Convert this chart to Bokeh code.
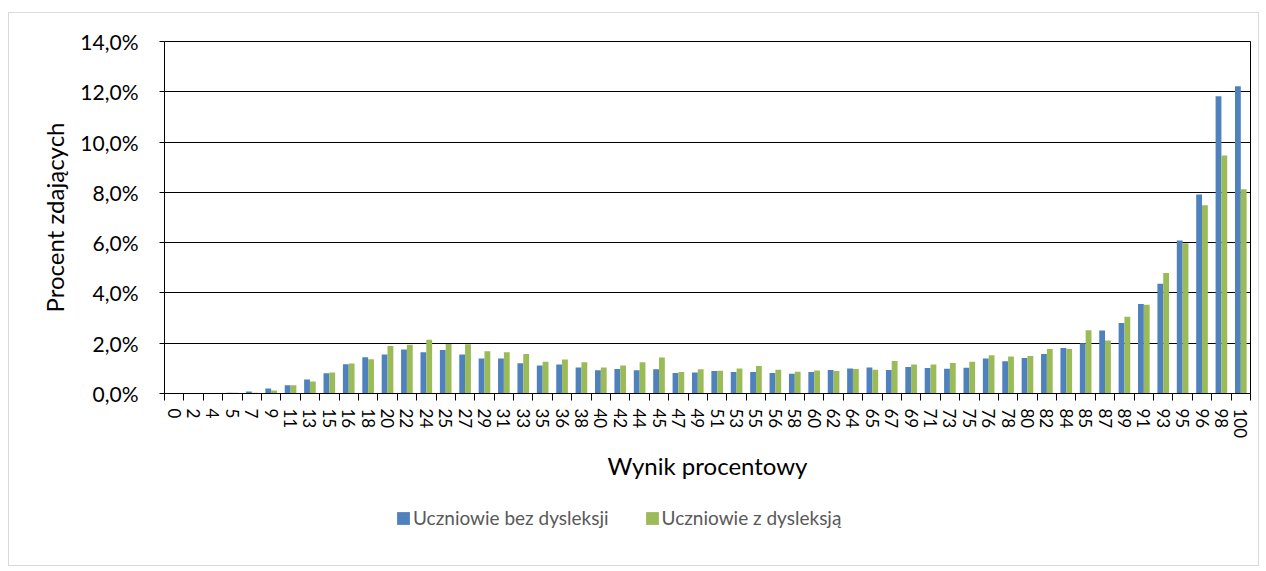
from bokeh.plotting import figure
from bokeh.layouts import column
from bokeh.models import (Range1d, FixedTicker, CustomJSTickFormatter, Legend, LegendItem,
                          ColumnDataSource)
from bokeh.transform import dodge
from bokeh.embed import file_html
from bokeh.resources import INLINE

# ---- data ----
categories = ["0", "2", "4", "5", "7", "9", "11", "13", "15", "16", "18", "20", "22", "24",
              "25", "27", "29", "31", "33", "35", "36", "38", "40", "42", "44", "45", "47",
              "49", "51", "53", "55", "56", "58", "60", "62", "64", "65", "67", "69", "71",
              "73", "75", "76", "78", "80", "82", "84", "85", "87", "89", "91", "93", "95",
              "96", "98", "100"]

bez_dysleksji = [0.00, 0.00, 0.00, 0.03, 0.08, 0.20, 0.33, 0.56, 0.81, 1.16, 1.44, 1.55, 1.75,
                 1.64, 1.73, 1.55, 1.39, 1.39, 1.20, 1.11, 1.15, 1.03, 0.92, 0.97, 0.92, 0.96,
                 0.82, 0.84, 0.89, 0.86, 0.86, 0.82, 0.79, 0.86, 0.93, 0.99, 1.03, 0.93, 1.05,
                 1.01, 0.98, 1.02, 1.39, 1.28, 1.41, 1.57, 1.81, 2.00, 2.51, 2.80, 3.56, 4.37,
                 6.09, 7.91, 11.82, 12.22]

z_dysleksja = [0.00, 0.00, 0.00, 0.03, 0.03, 0.12, 0.33, 0.48, 0.84, 1.19, 1.36, 1.89, 1.94,
               2.14, 1.97, 1.96, 1.68, 1.64, 1.57, 1.26, 1.35, 1.24, 1.03, 1.11, 1.24, 1.43,
               0.86, 0.96, 0.90, 0.99, 1.09, 0.94, 0.87, 0.91, 0.89, 0.97, 0.94, 1.29, 1.15,
               1.15, 1.21, 1.26, 1.52, 1.47, 1.49, 1.77, 1.77, 2.52, 2.11, 3.05, 3.53, 4.79,
               5.98, 7.49, 9.47, 8.12]

y_ticks = [0, 2, 4, 6, 8, 10, 12, 14]
series_names = ["Uczniowie bez dysleksji", "Uczniowie z dysleksją"]
series_colors = ["#4F81BD", "#9BBB59"]

FONT = "Lato"

idx = list(range(len(categories)))
src = ColumnDataSource(dict(x=idx, bez=bez_dysleksji, z=z_dysleksja))

p = figure(width=1249, height=477, output_backend="svg", toolbar_location=None,
           x_range=Range1d(-0.5, len(categories) - 0.5), y_range=Range1d(0, 14),
           min_border_left=155, min_border_right=8, min_border_top=28, min_border_bottom=97)
p.outline_line_color = "#000000"
p.outline_line_width = 1

r1 = p.vbar(x=dodge("x", -0.15), top="bez", width=0.3, source=src,
            fill_color=series_colors[0], line_color=None)
r2 = p.vbar(x=dodge("x", 0.15), top="z", width=0.3, source=src,
            fill_color=series_colors[1], line_color=None)

# grid
p.xgrid.visible = False
p.ygrid.grid_line_color = "#000000"
p.ygrid.grid_line_width = 1
p.ygrid.ticker = FixedTicker(ticks=y_ticks)

# y axis
p.yaxis.ticker = FixedTicker(ticks=y_ticks)
p.yaxis.formatter = CustomJSTickFormatter(code="return tick.toFixed(1).replace('.', ',') + '%';")
p.yaxis.axis_label = "Procent zdających"
p.yaxis.axis_label_text_font = FONT
p.yaxis.axis_label_text_font_style = "normal"
p.yaxis.axis_label_text_font_size = "24px"
p.yaxis.axis_label_text_color = "#000000"
p.yaxis.axis_label_standoff = 8
p.yaxis.major_label_text_font = FONT
p.yaxis.major_label_text_font_size = "21px"
p.yaxis.major_label_text_color = "#000000"
p.yaxis.major_tick_out = 5
p.yaxis.major_tick_in = 0
p.yaxis.minor_tick_out = 0
p.yaxis.minor_tick_in = 0
p.yaxis.major_label_standoff = 21
p.yaxis.axis_line_color = "#000000"
p.yaxis.major_tick_line_color = "#000000"

# x axis
boundaries = [i - 0.5 for i in range(len(categories) + 1)]
p.xaxis.ticker = FixedTicker(ticks=idx, minor_ticks=boundaries)
p.xaxis.major_label_overrides = {i: c for i, c in enumerate(categories)}
p.xaxis.major_label_orientation = "vertical"
p.xaxis.major_label_text_font = FONT
p.xaxis.major_label_text_font_size = "17px"
p.xaxis.major_label_text_color = "#000000"
p.xaxis.major_tick_out = 0
p.xaxis.major_tick_in = 0
p.xaxis.minor_tick_out = 7
p.xaxis.minor_tick_in = 0
p.xaxis.minor_tick_line_color = "#000000"
p.xaxis.major_label_standoff = 8
p.xaxis.axis_line_color = "#000000"
p.xaxis.axis_label = "Wynik procentowy"
p.xaxis.axis_label_text_font = FONT
p.xaxis.axis_label_text_font_style = "normal"
p.xaxis.axis_label_text_font_size = "24px"
p.xaxis.axis_label_text_color = "#000000"
p.xaxis.axis_label_standoff = 10

# legend strip below the chart (frames are aligned with the main chart by the column)
lg = figure(width=1249, height=75, output_backend="svg", toolbar_location=None,
            x_range=Range1d(0, 1), y_range=Range1d(0, 1),
            min_border_left=0, min_border_right=0, min_border_top=0, min_border_bottom=0)
lg.axis.visible = False
lg.grid.visible = False
lg.outline_line_color = None
# zero-height proxy bars: only their legend swatches are visible
proxy = ColumnDataSource(dict(x=[0.5], top=[0.0]))
lr1 = lg.vbar(x="x", top="top", width=0.01, source=proxy,
              fill_color=series_colors[0], line_color=None)
lr2 = lg.vbar(x="x", top="top", width=0.01, source=proxy,
              fill_color=series_colors[1], line_color=None)

legend = Legend(items=[LegendItem(label=series_names[0], renderers=[lr1]),
                       LegendItem(label=series_names[1], renderers=[lr2])],
                orientation="horizontal", location=(231, 36))
legend.label_text_font = FONT
legend.label_text_font_size = "19px"
legend.label_text_color = "#595959"
legend.glyph_width = 16
legend.glyph_height = 16
legend.label_height = 16
legend.label_standoff = 2
legend.spacing = 35
legend.border_line_color = None
legend.background_fill_alpha = 0
legend.margin = 0
legend.padding = 0
lg.add_layout(legend, "center")

layout = column(p, lg, spacing=0,
                styles={"border": "1px solid #d9d9d9", "margin-left": "8px", "margin-top": "12px"})

open("out.html", "w").write(file_html(layout, INLINE))
